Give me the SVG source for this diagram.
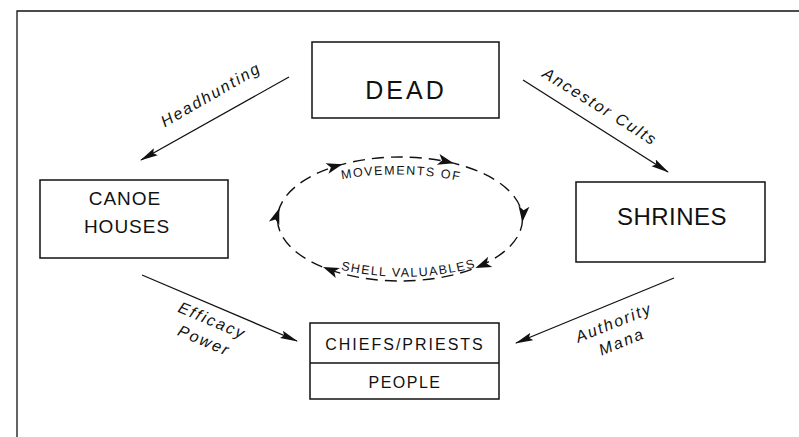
<svg xmlns="http://www.w3.org/2000/svg" xmlns:xlink="http://www.w3.org/1999/xlink" width="799" height="437" viewBox="0 0 799 437">
<style>
.box{fill:none;stroke:#111;stroke-width:1.5}
.conn{fill:none;stroke:#111;stroke-width:1.3}
.node{font-family:"Liberation Sans",Arial,sans-serif;fill:#111;text-anchor:middle}
.ital{font-family:"Liberation Sans",Arial,sans-serif;font-style:italic;font-size:16px;letter-spacing:2px;fill:#111;text-anchor:middle}
.arc{font-family:"Liberation Sans",Arial,sans-serif;font-size:12.5px;letter-spacing:1.5px;fill:#111}
</style>
<defs>
<marker id="ah" viewBox="0 0 18 9" refX="17" refY="4.5" markerWidth="18" markerHeight="9" markerUnits="userSpaceOnUse" orient="auto">
<path d="M0,0.5 L18,4.5 L0,8.5 L3,4.5 z" fill="#111"/>
</marker>
<path id="eh" d="M0,0 L-16,-5.5 L-12,0 L-16,5.5 z" fill="#111"/>
<path id="topArc" d="M 328 182 Q 400 166 474 184"/>
<path id="botArc" d="M 333 268 Q 410 287 484 265"/>
</defs>
<rect width="799" height="437" fill="#fff"/>
<g id="frame">
<path d="M17 437 L17 11 L799 11" fill="none" stroke="#111" stroke-width="1.3"/>
</g>
<g id="connectors">
<line class="conn" x1="289" y1="77" x2="141" y2="160" marker-end="url(#ah)"/>
<line class="conn" x1="523" y1="80" x2="668" y2="172" marker-end="url(#ah)"/>
<line class="conn" x1="142" y1="275" x2="297" y2="341" marker-end="url(#ah)"/>
<line class="conn" x1="674" y1="278" x2="516" y2="343" marker-end="url(#ah)"/>
<text class="ital" transform="translate(211,95) rotate(-30)" y="5">Headhunting</text>
<text class="ital" transform="translate(600,107) rotate(32)" y="5">Ancestor Cults</text>
<text class="ital" transform="translate(212,321) rotate(23)" y="5">Efficacy</text>
<text class="ital" transform="translate(204,341) rotate(23)" y="5">Power</text>
<text class="ital" transform="translate(614,323) rotate(-22)" y="5">Authority</text>
<text class="ital" transform="translate(622,342) rotate(-22)" y="5">Mana</text>
</g>
<g id="cycle">
<ellipse cx="400" cy="219" rx="122.5" ry="62" fill="none" stroke="#111" stroke-width="1.4" stroke-dasharray="12 7"/>
<use xlink:href="#eh" transform="translate(342.5,164.3) rotate(-15)"/>
<use xlink:href="#eh" transform="translate(453.7,163.3) rotate(14)"/>
<use xlink:href="#eh" transform="translate(522.3,222.2) rotate(96)"/>
<use xlink:href="#eh" transform="translate(475.4,267.9) rotate(158)"/>
<use xlink:href="#eh" transform="translate(323,267) rotate(202)"/>
<use xlink:href="#eh" transform="translate(279.3,208.2) rotate(-71)"/>
<text class="arc"><textPath xlink:href="#topArc" startOffset="50%" text-anchor="middle">MOVEMENTS OF</textPath></text>
<text class="arc"><textPath xlink:href="#botArc" startOffset="50%" text-anchor="middle">SHELL VALUABLES</textPath></text>
</g>
<g id="dead">
<rect class="box" x="312" y="42" width="187" height="76"/>
<text class="node" x="406" y="99" font-size="25" letter-spacing="3">DEAD</text>
</g>
<g id="canoe-houses">
<rect class="box" x="40" y="180" width="188" height="78"/>
<text class="node" x="125" y="205" font-size="19" letter-spacing="1">CANOE</text>
<text class="node" x="127" y="233" font-size="19" letter-spacing="1">HOUSES</text>
</g>
<g id="shrines">
<rect class="box" x="576" y="182" width="189" height="80"/>
<text class="node" x="672" y="225" font-size="24" letter-spacing="0.5">SHRINES</text>
</g>
<g id="chiefs-people">
<rect class="box" x="310" y="323" width="189" height="76"/>
<line class="box" x1="310" y1="363" x2="499" y2="363"/>
<text class="node" x="405" y="350" font-size="16" letter-spacing="2">CHIEFS/PRIESTS</text>
<text class="node" x="405" y="388" font-size="16" letter-spacing="1.5">PEOPLE</text>
</g>
</svg>
